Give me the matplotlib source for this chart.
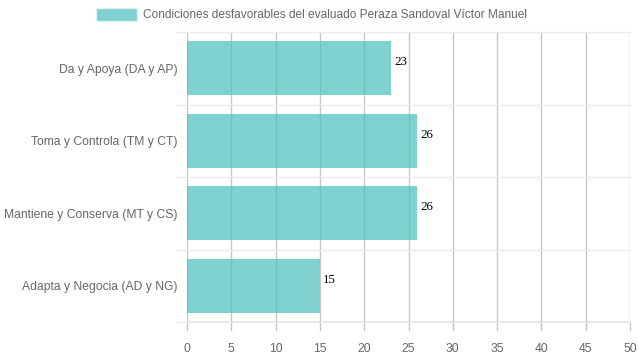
import matplotlib
matplotlib.use("Agg")
import matplotlib.pyplot as plt
from matplotlib.patches import Rectangle

plt.rcParams["font.family"] = ["Liberation Sans", "DejaVu Sans"]

categories = ["Da y Apoya (DA y AP)", "Toma y Controla (TM y CT)",
              "Mantiene y Conserva (MT y CS)", "Adapta y Negocia (AD y NG)"]
values = [23, 26, 26, 15]
legend_label = "Condiciones desfavorables del evaluado Peraza Sandoval Víctor Manuel"
xticks = [0, 5, 10, 15, 20, 25, 30, 35, 40, 45, 50]

W, H = 639, 360
fig = plt.figure(figsize=(W / 100, H / 100), dpi=100)
left, right, top, bottom = 187, 630, 32, 322
ax = fig.add_axes([left / W, 1 - bottom / H, (right - left) / W, (bottom - top) / H])

n = len(categories)
ypos = list(range(n))
ax.barh(ypos, values, height=0.74, color=(75/255, 192/255, 192/255, 0.7),
        edgecolor="none", zorder=3)
ax.set_xlim(0, 50)
ax.set_ylim(n - 0.5, -0.5)

ax.set_xticks(xticks)
ax.set_xticklabels([str(t) for t in xticks])
ax.set_yticks(ypos)
ax.set_yticklabels(categories)
ax.tick_params(axis="both", colors="#666666", labelsize=8.7, length=0)
ax.tick_params(axis="x", pad=15)
ax.tick_params(axis="y", pad=7)
for lbl in ax.get_yticklabels():
    lbl.set_y(lbl.get_position()[1])

for t in xticks:
    ax.axvline(t, color="#c8c8c8", lw=1, zorder=1)
    ax.plot([t, t], [n - 0.5, n - 0.5 + 0.11], color="#c8c8c8", lw=1,
            clip_on=False, zorder=1)
for b in range(n + 1):
    y = b - 0.5
    ax.plot([-1.25, 50], [y, y], color="#ebebeb", lw=1, clip_on=False, zorder=1)
ax.axhline(n - 0.5, color="#999999", lw=1, zorder=2)

for s in ax.spines.values():
    s.set_visible(False)

for i, v in enumerate(values):
    ax.text(v + 0.35, i - 0.08, str(v), fontfamily="Liberation Serif",
            fontsize=9.4, color="black", va="center", ha="left", zorder=4)

# legend
fig.patches.append(Rectangle((96 / W, 1 - 21 / H), 41 / W, 13 / H,
                             transform=fig.transFigure, facecolor=(75/255, 192/255, 192/255, 0.7),
                             edgecolor="#dcf2f2", lw=1))
fig.text(143 / W, 1 - 14.5 / H, legend_label, color="#666666", fontsize=8.6,
         va="center", ha="left")

fig.savefig("out.png", dpi=100)
